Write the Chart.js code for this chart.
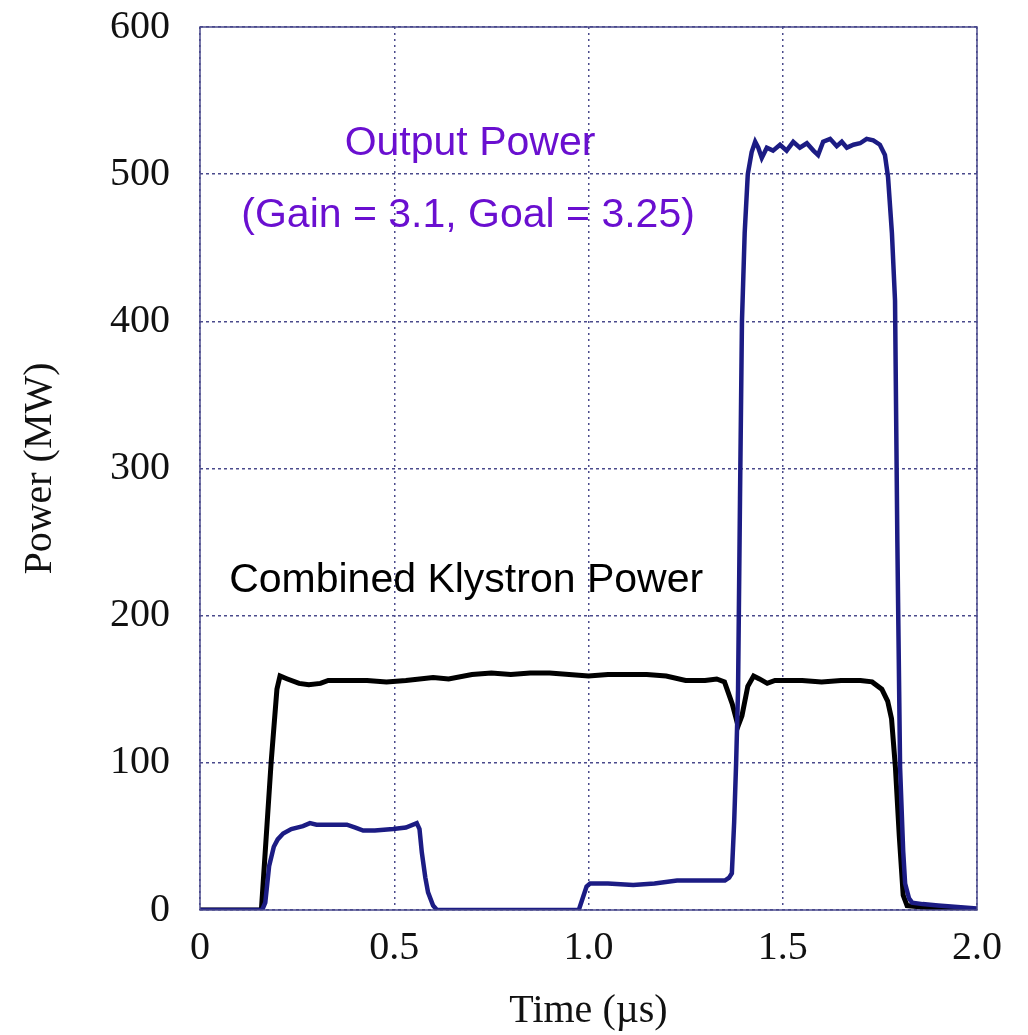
<!DOCTYPE html>
<html>
<head>
<meta charset="utf-8">
<script src="https://cdn.jsdelivr.net/npm/chart.js@4"></script>
<style>
  html, body { margin: 0; padding: 0; background: #fff; }
  #wrap { width: 1028px; height: 1035px; }
</style>
</head>
<body>
<div id="wrap"><canvas id="powerChart"></canvas></div>
<script>
// time axis (µs) and power (MW)
const xTicks = [0, 0.5, 1.0, 1.5, 2.0];
const xTickLabels = ['0', '0.5', '1.0', '1.5', '2.0'];
const yTicks = [0, 100, 200, 300, 400, 500, 600];

const klystronT = [0, 0.158, 0.183, 0.198, 0.206, 0.225, 0.255, 0.28, 0.31, 0.33, 0.38, 0.43, 0.48, 0.53, 0.6, 0.64, 0.7, 0.75, 0.8, 0.85, 0.9, 0.95, 1.0, 1.05, 1.1, 1.15, 1.2, 1.25, 1.3, 1.33, 1.35, 1.37, 1.385, 1.395, 1.41, 1.425, 1.44, 1.46, 1.48, 1.55, 1.6, 1.65, 1.7, 1.73, 1.755, 1.77, 1.78, 1.79, 1.8, 1.81, 1.82, 1.9, 2.0];
const klystronP = [0, 0, 100, 150, 159, 157, 154, 153, 154, 156, 156, 156, 155, 156, 158, 157, 160, 161, 160, 161, 161, 160, 159, 160, 160, 160, 159, 156, 156, 157, 155, 140, 125, 132, 152, 159, 157, 154, 156, 156, 155, 156, 156, 155, 150, 142, 130, 97, 50, 10, 3, 1, 0];

const outputT = [0, 0.16, 0.168, 0.178, 0.19, 0.2, 0.214, 0.235, 0.25, 0.265, 0.283, 0.3, 0.33, 0.378, 0.4, 0.42, 0.45, 0.497, 0.53, 0.558, 0.565, 0.571, 0.58, 0.587, 0.6, 0.61, 0.975, 0.985, 0.995, 1.004, 1.05, 1.115, 1.17, 1.228, 1.3, 1.351, 1.362, 1.369, 1.375, 1.38, 1.385, 1.39, 1.395, 1.402, 1.41, 1.42, 1.429, 1.437, 1.446, 1.459, 1.475, 1.493, 1.51, 1.527, 1.544, 1.562, 1.579, 1.591, 1.604, 1.622, 1.639, 1.652, 1.665, 1.682, 1.699, 1.716, 1.733, 1.75, 1.763, 1.771, 1.781, 1.789, 1.795, 1.802, 1.81, 1.815, 1.825, 1.833, 1.86, 1.9, 1.95, 2.0];
const outputP = [0, 0, 5, 30, 43, 48, 52, 55, 56, 57, 59, 58, 58, 58, 56, 54, 54, 55, 56, 59, 55, 39, 22, 12, 3, 0, 0, 8, 16, 18, 18, 17, 18, 20, 20, 20, 22, 25, 60, 100, 150, 280, 400, 460, 500, 515, 522, 518, 511, 518, 516, 520, 516, 522, 518, 521, 516, 513, 522, 524, 519, 522, 518, 520, 521, 524, 523, 520, 513, 498, 460, 414, 250, 97, 40, 18, 8, 5, 4, 3, 2, 1];

const toPoints = (ts, ps) => ts.map((t, i) => ({ x: t, y: ps[i] }));

const gridColor = '#4a4a8c';

// text labels placed in data coordinates + plot frame
const notesPlugin = {
  id: 'notes',
  afterDatasetsDraw(chart) {
    const { ctx, chartArea, scales } = chart;
    ctx.save();
    ctx.strokeStyle = gridColor;
    ctx.lineWidth = 1.5;
    ctx.strokeRect(chartArea.left, chartArea.top, chartArea.right - chartArea.left, chartArea.bottom - chartArea.top);

    ctx.font = '41px "Liberation Sans", Arial, sans-serif';
    ctx.textAlign = 'center';
    ctx.textBaseline = 'middle';
    ctx.fillStyle = '#6a0fd0';
    ctx.fillText('Output Power', scales.x.getPixelForValue(0.695), scales.y.getPixelForValue(521));
    ctx.fillText('(Gain = 3.1, Goal = 3.25)', scales.x.getPixelForValue(0.69), scales.y.getPixelForValue(472));
    ctx.fillStyle = '#000';
    ctx.fillText('Combined Klystron Power', scales.x.getPixelForValue(0.685), scales.y.getPixelForValue(224));
    ctx.restore();
  }
};

const ctx = document.getElementById('powerChart');
new Chart(ctx, {
  type: 'line',
  data: {
    datasets: [
      {
        label: 'Output Power',
        data: toPoints(outputT, outputP),
        borderColor: '#1c1c84',
        borderWidth: 4.5,
        pointRadius: 0,
        tension: 0,
        order: 0,
      },
      {
        label: 'Combined Klystron Power',
        data: toPoints(klystronT, klystronP),
        borderColor: '#000000',
        borderWidth: 5,
        pointRadius: 0,
        tension: 0,
        order: 1,
      },
    ],
  },
  options: {
    responsive: true,
    maintainAspectRatio: false,
    animation: false,
    layout: { padding: { top: 27, right: 51, bottom: 0, left: 0 } },
    plugins: {
      legend: { display: false },
      tooltip: { enabled: false },
    },
    scales: {
      x: {
        type: 'linear',
        min: 0,
        max: 2,
        afterBuildTicks: (scale) => { scale.ticks = xTicks.map((v) => ({ value: v })); },
        afterFit: (scale) => { scale.height = 125; scale.paddingLeft = 0; scale.paddingRight = 0; },
        ticks: {
          color: '#111',
          padding: 14,
          maxRotation: 0,
          font: { family: '"Liberation Serif", "Times New Roman", serif', size: 40 },
          callback: (v) => xTickLabels[xTicks.indexOf(v)],
        },
        grid: { color: gridColor, lineWidth: 1.5, drawTicks: false },
        border: { display: false, dash: [2, 4] },
        title: {
          display: true,
          text: 'Time (µs)',
          color: '#111',
          padding: { top: 0, bottom: 0 },
          font: { family: '"Liberation Serif", "Times New Roman", serif', size: 40 },
        },
      },
      y: {
        type: 'linear',
        min: 0,
        max: 600,
        afterBuildTicks: (scale) => { scale.ticks = yTicks.map((v) => ({ value: v })); },
        afterFit: (scale) => { scale.width = 200; scale.paddingTop = 0; scale.paddingBottom = 0; },
        ticks: {
          color: '#111',
          padding: 30,
          font: { family: '"Liberation Serif", "Times New Roman", serif', size: 40 },
        },
        grid: { color: gridColor, lineWidth: 1.5, drawTicks: false },
        border: { display: false, dash: [3, 3] },
        title: {
          display: true,
          text: 'Power (MW)',
          color: '#111',
          padding: { top: 16, bottom: 0 },
          font: { family: '"Liberation Serif", "Times New Roman", serif', size: 40 },
        },
      },
    },
  },
  plugins: [notesPlugin],
});
</script>
</body>
</html>
